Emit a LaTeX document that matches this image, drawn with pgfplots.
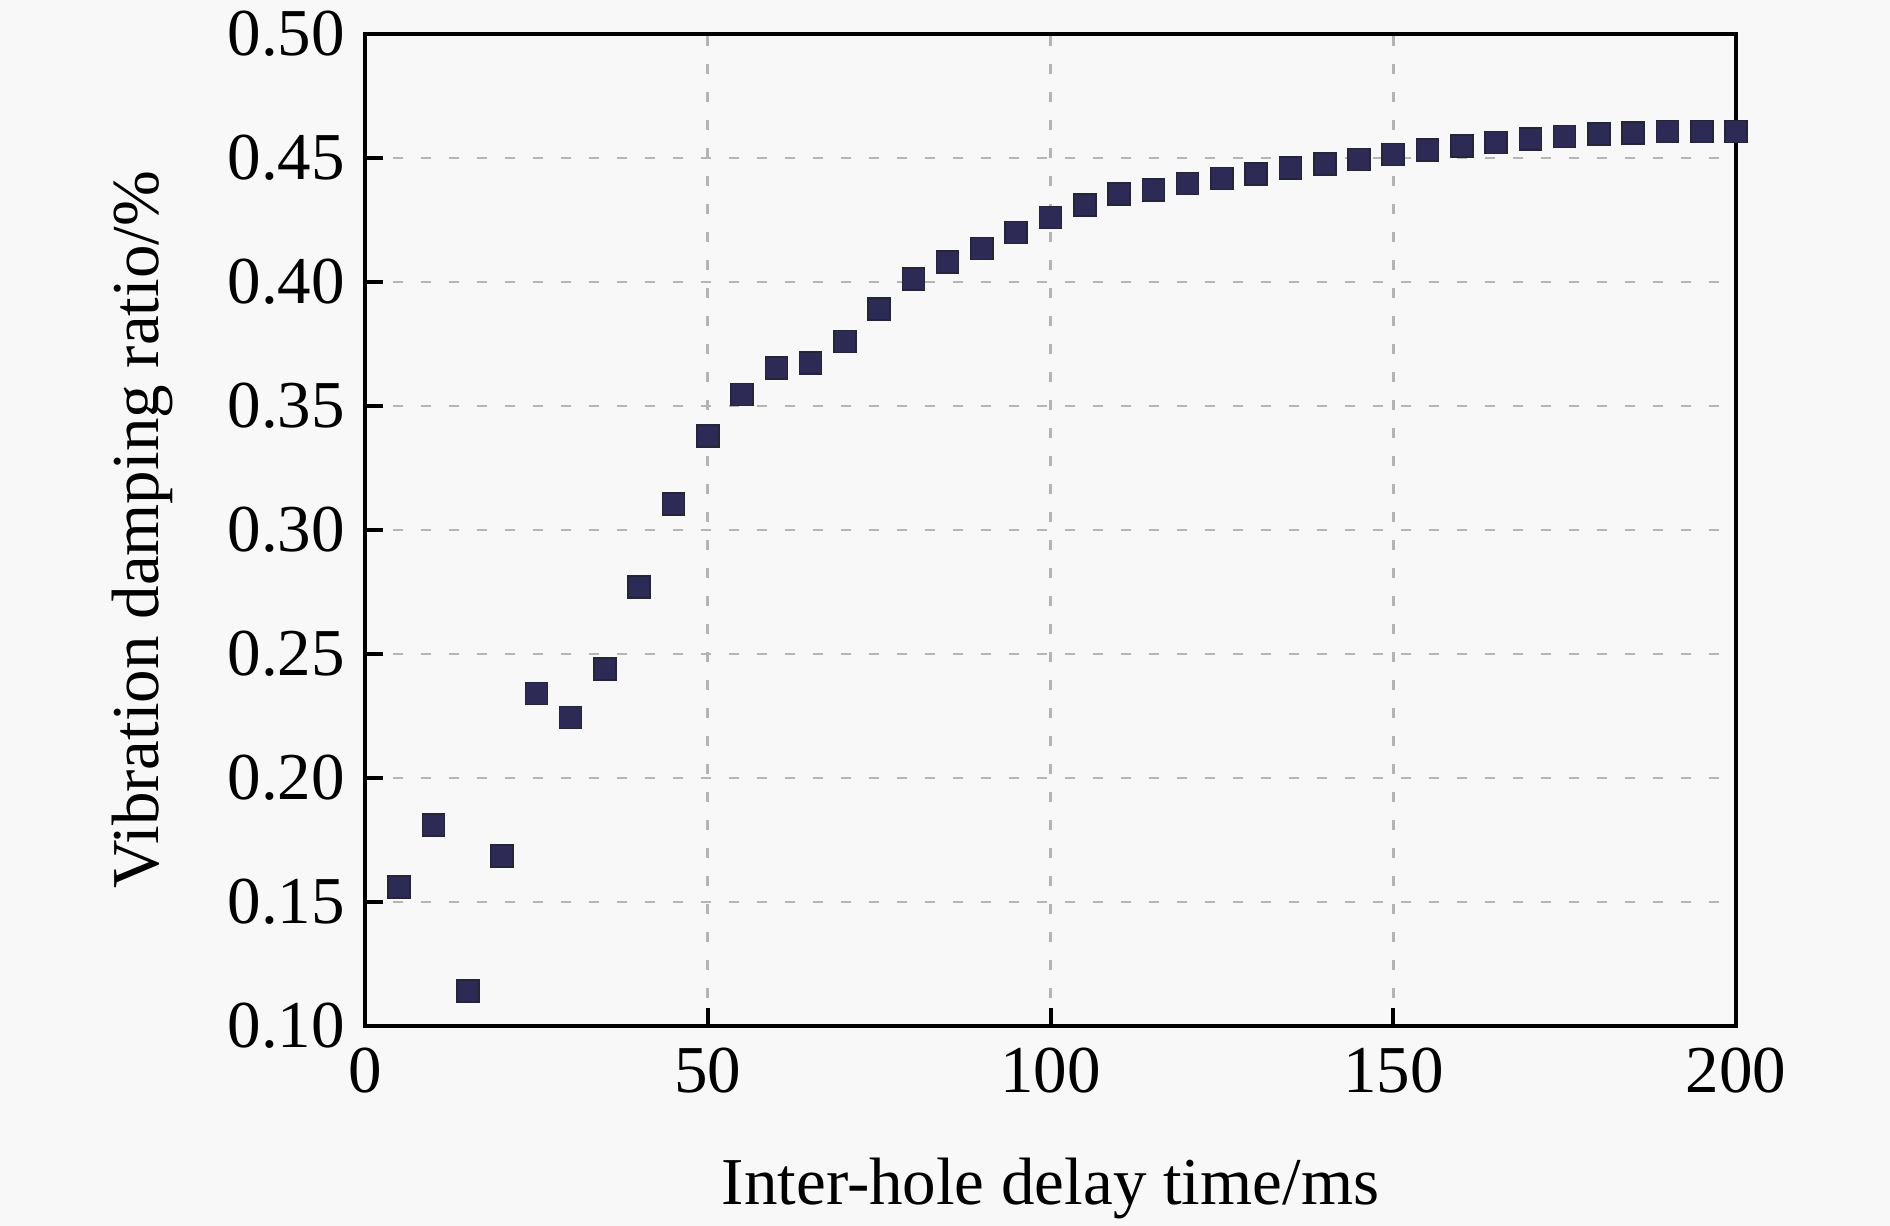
\documentclass[border=0pt]{standalone}
\usepackage{pgfplots}
\pgfplotsset{compat=1.18}
\usepackage{fontspec}
\setmainfont{Liberation Serif}
\definecolor{bg}{HTML}{F8F8F8}
\definecolor{mk}{HTML}{2D2A55}
\definecolor{mkd}{HTML}{25253A}
\definecolor{gr}{HTML}{B4B4B4}
\begin{document}
\begin{tikzpicture}
\path[use as bounding box, fill=bg] (-91.25pt,-50pt) rectangle (381.25pt,256.5pt);
\begin{axis}[
  at={(0pt,0pt)}, anchor=south west,
  scale only axis, width=342.75pt, height=248pt,
  xmin=0, xmax=200, ymin=0.10, ymax=0.50,
  xtick={0,50,100,150,200},
  ytick={0.10,0.15,0.20,0.25,0.30,0.35,0.40,0.45,0.50},
  tick pos=left, tick align=inside,
  major tick length=4.5pt,
  every tick/.style={black, line width=1pt},
  axis line style={line width=1.1pt, black},
  grid=major,
  major grid style={gr, line width=0.7pt, dash pattern=on 2.5pt off 4.5pt},
  tick label style={font=\fontsize{16.75}{20}\selectfont},
  /pgf/number format/assume math mode=true,
  yticklabel style={xshift=-1.5pt, /pgf/number format/fixed, /pgf/number format/fixed zerofill, /pgf/number format/precision=2},
  xticklabel style={yshift=-2pt},
  xlabel={Inter-hole delay time/ms},
  ylabel={Vibration damping ratio/\%},
  every axis x label/.style={at={(axis description cs:0.5,-0.1804)}, anchor=base, font=\fontsize{16.75}{20}\selectfont},
  every axis y label/.style={at={(axis description cs:-0.1503,0.5)}, anchor=base, rotate=90, font=\fontsize{16.75}{20}\selectfont},
  clip=false,
]
\addplot[only marks, mark=square*, mark size=2.75pt,
  mark options={fill=mk, draw=mkd, line width=0.4pt}] coordinates {
(5,0.156) (10,0.181) (15,0.114) (20,0.1685) (25,0.234) (30,0.2244)
(35,0.244) (40,0.277) (45,0.3105) (50,0.338) (55,0.3547) (60,0.3654)
(65,0.3673) (70,0.376) (75,0.389) (80,0.4013) (85,0.408) (90,0.4135)
(95,0.420) (100,0.426) (105,0.431) (110,0.4354) (115,0.437) (120,0.4397)
(125,0.4417) (130,0.4436) (135,0.446) (140,0.4475) (145,0.4494) (150,0.4514)
(155,0.4533) (160,0.4548) (165,0.4562) (170,0.4577) (175,0.4587) (180,0.4597)
(185,0.460) (190,0.4606) (195,0.4606) (200,0.4606)
};
\end{axis}
\end{tikzpicture}
\end{document}
